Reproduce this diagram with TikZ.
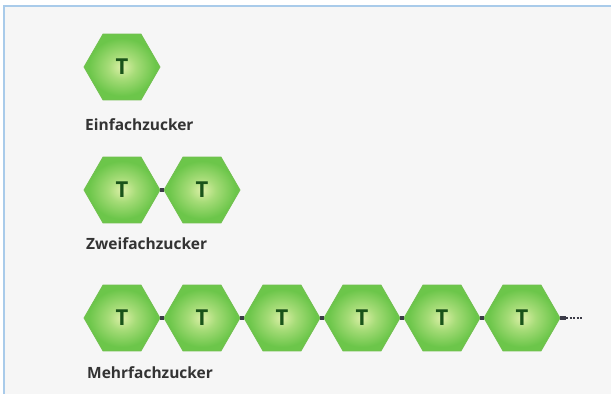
\documentclass[tikz,border=0pt]{standalone}
\usepackage{fontspec}
\setmainfont{Open Sans}
\usetikzlibrary{shapes.geometric}
\definecolor{framebg}{HTML}{F6F6F6}
\definecolor{frameline}{HTML}{A9CBEA}
\definecolor{hexin}{HTML}{DDF0A8}
\definecolor{hexmid}{HTML}{A6DC78}
\definecolor{hexout}{HTML}{6CC64A}
\definecolor{hexline}{HTML}{72C050}
\definecolor{tgreen}{HTML}{1A531A}
\definecolor{labelgray}{HTML}{333333}
\definecolor{linkgray}{HTML}{3C3C48}
\pgfdeclareradialshading{hexshade}{\pgfpoint{0bp}{0bp}}{%
  color(0bp)=(hexin); color(9bp)=(hexmid); color(22bp)=(hexout); color(50bp)=(hexout)}
\tikzset{
  sugar/.style={regular polygon, regular polygon sides=6, minimum size=76pt,
    inner sep=0pt, draw=hexline, line width=0.8pt, shading=hexshade,
    font=\fontsize{22}{22}\selectfont\bfseries, text=tgreen},
  lbl/.style={anchor=base west, inner sep=0pt, font=\fontsize{15.5}{16}\selectfont\bfseries, text=labelgray},
  link/.style={draw=linkgray, line width=4pt},
  tail/.style={draw=linkgray, line width=2.5pt, dash pattern=on 2pt off 1.5pt}
}
\begin{document}
\begin{tikzpicture}[x=1pt,y=-1pt]
\useasboundingbox (0,0) rectangle (611,394);
\fill[white] (0,0) rectangle (611,394);
\fill[framebg] (4,6) rectangle (611,394);
\draw[frameline, line width=1.5pt] (4,394) -- (4,6) -- (611,6);
% row 1
\node[sugar] (a1) at (122,67) {T};
\node[lbl] (l1) at (85,130) {Einfachzucker};
% row 2
\node[sugar] (b1) at (122,190) {T};
\node[sugar] (b2) at (202,190) {T};
\draw[link] (b1.corner 6) -- (b2.corner 3);
\node[lbl] (l2) at (86,249) {Zweifachzucker};
% row 3
\foreach \i/\x in {1/122,2/202,3/282,4/362,5/442,6/522}{
  \node[sugar] (c\i) at (\x,318) {T};
}
\foreach \i/\j in {1/2,2/3,3/4,4/5,5/6}{
  \draw[link] (c\i.corner 6) -- (c\j.corner 3);
}
\coordinate (tailmid) at (566,318);
\coordinate (tailend) at (582,318);
\draw[link] (c6.corner 6) -- (tailmid);
\draw[tail] (tailmid) -- (tailend);
\node[lbl] (l3) at (87,378) {Mehrfachzucker};
\end{tikzpicture}
\end{document}
